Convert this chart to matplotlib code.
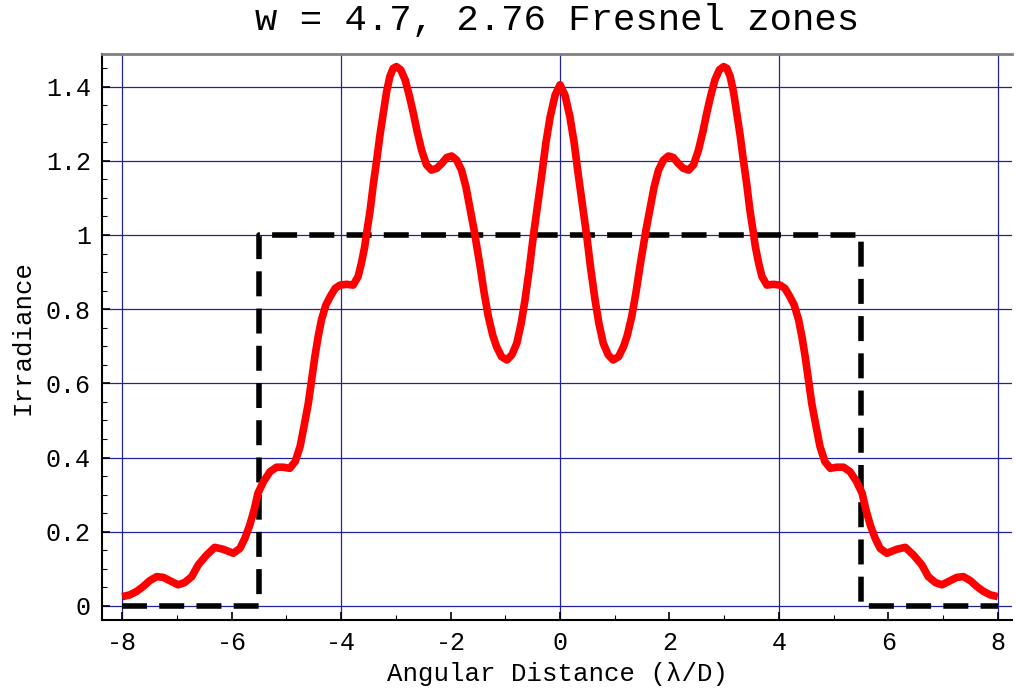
import numpy as np
import matplotlib
matplotlib.use("Agg")
from matplotlib import pyplot as plt
from matplotlib.ticker import MultipleLocator

# irradiance (red curve), left and right halves
angle_left = [-8.00, -7.86, -7.74, -7.62, -7.50, -7.37, -7.25, -7.13, -6.98, -6.86,
              -6.73, -6.61, -6.46, -6.31, -6.16, -5.97, -5.85, -5.76, -5.67, -5.59,
              -5.52, -5.42, -5.30, -5.18, -5.06, -4.94, -4.84, -4.75, -4.68, -4.60,
              -4.54, -4.48, -4.42, -4.36, -4.28, -4.20, -4.11, -4.02, -3.90, -3.78,
              -3.69, -3.63, -3.57, -3.53, -3.47, -3.41, -3.35, -3.29, -3.23, -3.17,
              -3.11, -3.05, -2.99, -2.91, -2.83, -2.75, -2.68, -2.61, -2.53, -2.44,
              -2.35, -2.25, -2.16, -2.07, -1.98, -1.89, -1.80, -1.72, -1.65, -1.57,
              -1.46, -1.39, -1.31, -1.23, -1.16, -1.07, -0.97, -0.88, -0.79, -0.71,
              -0.64, -0.56, -0.49, -0.41, -0.33, -0.26, -0.18, -0.09, 0.00]
irr_left = [0.025, 0.030, 0.039, 0.052, 0.068, 0.079, 0.077, 0.068, 0.057, 0.063,
            0.079, 0.111, 0.137, 0.158, 0.153, 0.142, 0.155, 0.182, 0.218, 0.259,
            0.304, 0.335, 0.362, 0.374, 0.374, 0.371, 0.389, 0.430, 0.483, 0.546,
            0.609, 0.672, 0.726, 0.771, 0.811, 0.834, 0.856, 0.865, 0.867, 0.865,
            0.888, 0.924, 0.968, 1.009, 1.067, 1.139, 1.202, 1.270, 1.328, 1.386,
            1.427, 1.449, 1.454, 1.445, 1.418, 1.373, 1.328, 1.278, 1.229, 1.189,
            1.175, 1.180, 1.193, 1.209, 1.213, 1.202, 1.175, 1.130, 1.076, 1.013,
            0.915, 0.847, 0.780, 0.730, 0.699, 0.672, 0.663, 0.677, 0.708, 0.762,
            0.825, 0.910, 0.995, 1.081, 1.166, 1.247, 1.319, 1.377, 1.405]

angle_right = [0.09, 0.18, 0.26, 0.33, 0.41, 0.49, 0.56, 0.64, 0.71, 0.79,
               0.88, 0.97, 1.07, 1.16, 1.23, 1.31, 1.39, 1.46, 1.57, 1.65,
               1.72, 1.80, 1.89, 1.98, 2.07, 2.16, 2.25, 2.35, 2.44, 2.53,
               2.61, 2.68, 2.75, 2.83, 2.91, 2.99, 3.05, 3.11, 3.17, 3.23,
               3.29, 3.35, 3.41, 3.47, 3.53, 3.57, 3.63, 3.69, 3.78, 3.90,
               4.02, 4.11, 4.20, 4.28, 4.36, 4.42, 4.48, 4.54, 4.60, 4.68,
               4.75, 4.84, 4.94, 5.06, 5.18, 5.30, 5.42, 5.52, 5.59, 5.67,
               5.76, 5.85, 5.97, 6.16, 6.31, 6.46, 6.61, 6.73, 6.86, 6.98,
               7.13, 7.25, 7.37, 7.50, 7.62, 7.74, 7.86, 8.00]
irr_right = [1.377, 1.319, 1.247, 1.166, 1.081, 0.995, 0.910, 0.825, 0.762, 0.708,
             0.677, 0.663, 0.672, 0.699, 0.730, 0.780, 0.847, 0.915, 1.013, 1.076,
             1.130, 1.175, 1.202, 1.213, 1.209, 1.193, 1.180, 1.175, 1.189, 1.229,
             1.278, 1.328, 1.373, 1.418, 1.445, 1.454, 1.449, 1.427, 1.386, 1.328,
             1.270, 1.202, 1.139, 1.067, 1.009, 0.968, 0.924, 0.888, 0.865, 0.867,
             0.865, 0.856, 0.834, 0.811, 0.771, 0.726, 0.672, 0.609, 0.546, 0.483,
             0.430, 0.389, 0.371, 0.374, 0.374, 0.362, 0.335, 0.304, 0.259, 0.218,
             0.182, 0.155, 0.142, 0.153, 0.158, 0.137, 0.111, 0.079, 0.063, 0.057,
             0.068, 0.077, 0.079, 0.068, 0.052, 0.039, 0.030, 0.025]

angle = angle_left + angle_right
irradiance = irr_left + irr_right

# geometric shadow (black dashed box)
box_x = [-8, -5.5, -5.5, 5.5, 5.5, 8]
box_y = [0, 0, 1, 1, 0, 0]

xticks = [-8, -6, -4, -2, 0, 2, 4, 6, 8]
xgrid = [-8, -4, 0, 4, 8]
yticks = [0, 0.2, 0.4, 0.6, 0.8, 1, 1.2, 1.4]
ytick_labels = ["0", "0.2", "0.4", "0.6", "0.8", "1", "1.2", "1.4"]

plt.rcParams['font.family'] = ['Liberation Mono', 'DejaVu Sans']

fig = plt.figure(figsize=(10.16, 6.91), dpi=100)
ax = fig.add_axes([0.1004, 0.1027, 0.8957, 0.8192])

# grid: vertical lines every 4, horizontal every 0.2
for gx in xgrid:
    ax.axvline(gx, color='#22229a', lw=0.9, zorder=1)
for gy in yticks:
    ax.axhline(gy, color='#22229a', lw=0.9, zorder=1)

ax.plot(box_x, box_y, color='black', lw=4, dashes=(4.5, 2.2), zorder=3)
ax.plot(angle, irradiance, color='red', lw=5.5, solid_joinstyle='round',
        solid_capstyle='butt', zorder=4)

ax.set_xlim(-8.37, 8.26)
ax.set_ylim(-0.038, 1.488)
ax.set_xticks(xticks)
ax.set_xticklabels([str(t) for t in xticks])
ax.set_yticks(yticks)
ax.set_yticklabels(ytick_labels)
ax.xaxis.set_minor_locator(MultipleLocator(1))
ax.yaxis.set_minor_locator(MultipleLocator(0.05))
ax.tick_params(which='both', direction='in', top=False, right=False, labelsize=18)
ax.tick_params(which='major', length=6, width=1.2, pad=8)
ax.tick_params(which='minor', length=3.5, width=0.8)

ax.spines['right'].set_visible(False)
ax.spines['top'].set_color('#808080')
ax.spines['top'].set_linewidth(2)
ax.spines['left'].set_linewidth(1.5)
ax.spines['bottom'].set_linewidth(1.5)

ax.set_xlabel('Angular Distance (λ/D)', fontsize=18.5, labelpad=5)
ax.set_ylabel('Irradiance', fontsize=18.5, labelpad=8)
ax.set_title('w = 4.7, 2.76 Fresnel zones', fontsize=26.8, pad=17)

fig.savefig('out.png', dpi=100)
